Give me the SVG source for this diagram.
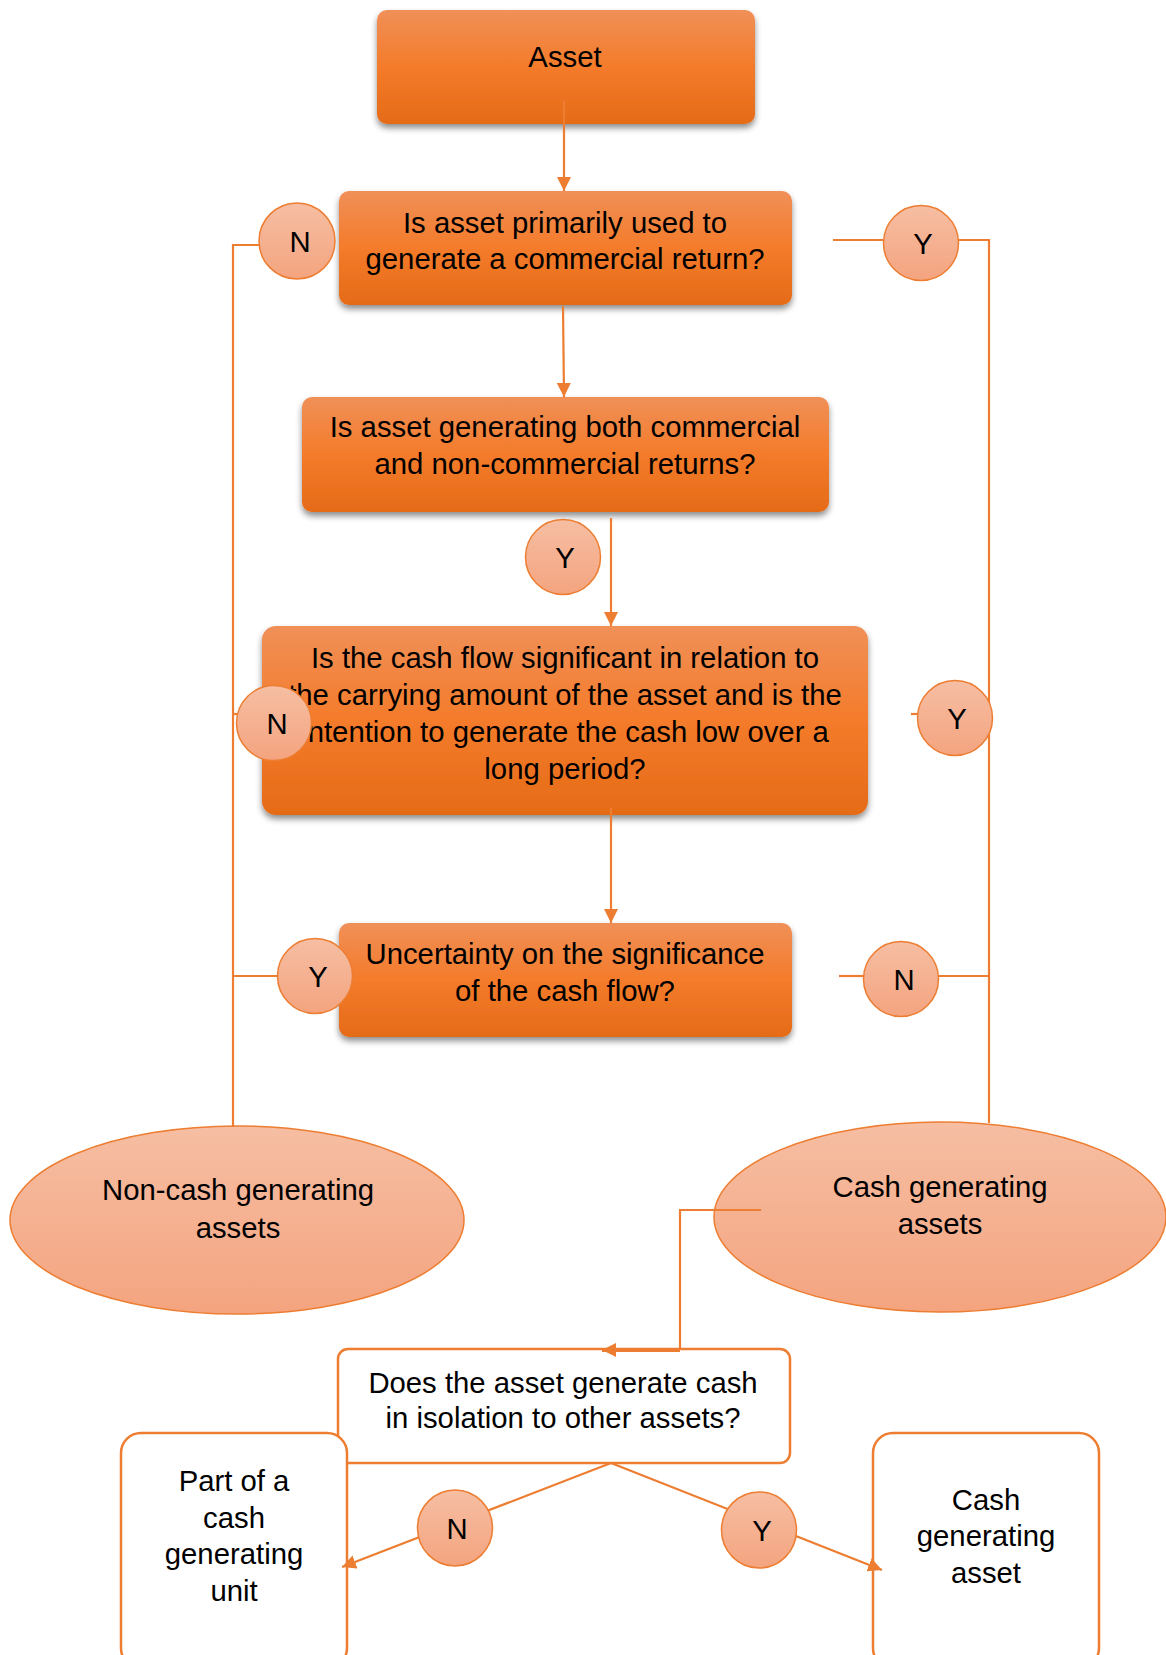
<svg xmlns="http://www.w3.org/2000/svg" width="1166" height="1655" viewBox="0 0 1166 1655">
<defs>
<linearGradient id="gBox" x1="0" y1="0" x2="0" y2="1">
<stop offset="0" stop-color="#F09058"/>
<stop offset="0.5" stop-color="#F47B2A"/>
<stop offset="1" stop-color="#E56B18"/>
</linearGradient>
<linearGradient id="gCirc" x1="0" y1="0" x2="0" y2="1">
<stop offset="0" stop-color="#F6BEA3"/>
<stop offset="1" stop-color="#F4A47F"/>
</linearGradient>
<filter id="sh" x="-5%" y="-10%" width="110%" height="130%">
<feDropShadow dx="0" dy="4" stdDeviation="3" flood-color="#000" flood-opacity="0.45"/>
</filter>
<marker id="ah" markerUnits="userSpaceOnUse" markerWidth="14" markerHeight="14" viewBox="0 0 14 14" refX="14" refY="7" orient="auto">
<path d="M0,0 L14,7 L0,14 Z" fill="#ED7D31"/>
</marker>
</defs>
<style>
.box{fill:url(#gBox);filter:url(#sh);}
.ell{fill:url(#gCirc);stroke:#ED7D31;stroke-width:1.5;}
.lab{fill:url(#gCirc);stroke:#ED7D31;stroke-width:1.5;}
.wbox{fill:#fff;stroke:#ED7D31;stroke-width:2.5;}
.ln{fill:none;stroke:#ED7D31;stroke-width:2.2;}
.t{font-family:"Liberation Sans",Arial,sans-serif;font-size:29.3px;fill:#000;text-anchor:middle;}
</style>
<rect width="1166" height="1655" fill="#fff"/>

<g id="asset"><rect class="box" x="377" y="10" width="378" height="114" rx="10"/><text class="t" x="565" y="67">Asset</text></g>
<g id="q1"><rect class="box" x="339" y="191" width="453" height="114" rx="10"/><text class="t" x="565" y="233">Is asset primarily used to</text><text class="t" x="565" y="269">generate a commercial return?</text></g>
<g id="q2"><rect class="box" x="302" y="397" width="527" height="115" rx="10"/><text class="t" x="565" y="437">Is asset generating both commercial</text><text class="t" x="565" y="474">and non-commercial returns?</text></g>
<g id="q3"><rect class="box" x="262" y="626" width="606" height="189" rx="14"/><text class="t" x="565" y="668">Is the cash flow significant in relation to</text><text class="t" x="565" y="705">the carrying amount of the asset and is the</text><text class="t" x="565" y="742">intention to generate the cash low over a</text><text class="t" x="565" y="779">long period?</text></g>
<g id="q4"><rect class="box" x="339" y="923" width="453" height="114" rx="10"/><text class="t" x="565" y="964">Uncertainty on the significance</text><text class="t" x="565" y="1001">of the cash flow?</text></g>
<g id="noncash"><ellipse class="ell" cx="237" cy="1220" rx="227" ry="94"/><text class="t" x="238" y="1200">Non-cash generating</text><text class="t" x="238" y="1238">assets</text></g>
<g id="cash"><ellipse class="ell" cx="940" cy="1217" rx="226" ry="95"/><text class="t" x="940" y="1197">Cash generating</text><text class="t" x="940" y="1234">assets</text></g>
<g id="q5"><rect class="wbox" x="338" y="1349" width="452" height="114" rx="10"/><text class="t" x="563" y="1393">Does the asset generate cash</text><text class="t" x="563" y="1428">in isolation to other assets?</text></g>
<g id="cgu"><rect class="wbox" x="121" y="1433" width="226" height="235" rx="20"/><text class="t" x="234" y="1491">Part of a</text><text class="t" x="234" y="1528">cash</text><text class="t" x="234" y="1564">generating</text><text class="t" x="234" y="1601">unit</text></g>
<g id="cga"><rect class="wbox" x="873" y="1433" width="226" height="235" rx="20"/><text class="t" x="986" y="1510">Cash</text><text class="t" x="986" y="1546">generating</text><text class="t" x="986" y="1583">asset</text></g>

<g id="connectors">
<line class="ln" x1="564" y1="101" x2="564" y2="191" marker-end="url(#ah)"/>
<line class="ln" x1="563" y1="306" x2="564" y2="397" marker-end="url(#ah)"/>
<line class="ln" x1="611" y1="518" x2="611" y2="626" marker-end="url(#ah)"/>
<line class="ln" x1="611" y1="808" x2="611" y2="923" marker-end="url(#ah)"/>
<polyline class="ln" points="260,245 233,245 233,1127"/>
<line class="ln" x1="233" y1="714" x2="237" y2="714"/>
<line class="ln" x1="233" y1="976" x2="278" y2="976"/>
<line class="ln" x1="833" y1="240" x2="883" y2="240"/>
<polyline class="ln" points="958,240 989,240 989,1123"/>
<line class="ln" x1="911" y1="714" x2="918" y2="714"/>
<line class="ln" x1="839" y1="976" x2="864" y2="976"/>
<line class="ln" x1="938" y1="976" x2="989" y2="976"/>
<polyline class="ln" points="761,1210 680,1210 680,1350"/>
<line x1="680" y1="1350" x2="602" y2="1350" stroke="#ED7D31" stroke-width="4" marker-end="url(#ah)"/>
<line class="ln" x1="611" y1="1463" x2="342" y2="1567" marker-end="url(#ah)"/>
<line class="ln" x1="611" y1="1463" x2="882" y2="1570" marker-end="url(#ah)"/>
</g>

<g id="lblN1"><circle class="lab" cx="297" cy="241" r="38"/><text class="t" x="300" y="252">N</text></g>
<g id="lblY1"><circle class="lab" cx="921" cy="243" r="37.5"/><text class="t" x="923" y="254">Y</text></g>
<g id="lblY2"><circle class="lab" cx="563" cy="557" r="37.5"/><text class="t" x="565" y="568">Y</text></g>
<g id="lblN2"><circle class="lab" cx="274" cy="723" r="37.5"/><text class="t" x="277" y="734">N</text></g>
<g id="lblY3"><circle class="lab" cx="955" cy="718" r="37.5"/><text class="t" x="957" y="729">Y</text></g>
<g id="lblY4"><circle class="lab" cx="315" cy="976" r="37.5"/><text class="t" x="318" y="987">Y</text></g>
<g id="lblN3"><circle class="lab" cx="901" cy="979" r="37.5"/><text class="t" x="904" y="990">N</text></g>
<g id="lblN4"><ellipse class="lab" cx="455" cy="1528" rx="37.5" ry="38"/><text class="t" x="457" y="1539">N</text></g>
<g id="lblY5"><ellipse class="lab" cx="759" cy="1530" rx="37.5" ry="38"/><text class="t" x="762" y="1541">Y</text></g>
</svg>
